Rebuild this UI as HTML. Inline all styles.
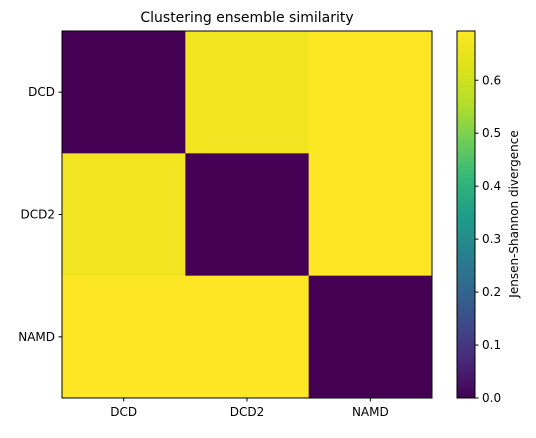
<!DOCTYPE html>
<html><head><meta charset="utf-8"><style>
body{margin:0;background:#fff;font-family:"Liberation Sans","DejaVu Sans",sans-serif;}
svg text{font-family:"DejaVu Sans","Liberation Sans",sans-serif;}
</style></head><body>
<svg id="chart" width="536" height="433">
<defs><linearGradient id="vir" x1="0" y1="1" x2="0" y2="0">
<stop offset="0" stop-color="#440154"/><stop offset="0.1" stop-color="#482878"/><stop offset="0.2" stop-color="#3e4989"/><stop offset="0.3" stop-color="#31688e"/><stop offset="0.4" stop-color="#26828e"/><stop offset="0.5" stop-color="#1f9e89"/><stop offset="0.6" stop-color="#35b779"/><stop offset="0.7" stop-color="#6ece58"/><stop offset="0.8" stop-color="#b5de2b"/><stop offset="0.9" stop-color="#dde318"/><stop offset="1" stop-color="#fde725"/>
</linearGradient></defs>
<text x="247" y="22" font-size="14" text-anchor="middle">Clustering ensemble similarity</text>
<g id="cells"></g>
<rect x="62" y="31" width="370" height="367" fill="none" stroke="#000" stroke-width="1"/>
<g id="axes" font-size="12"></g>
<rect x="457" y="31" width="18" height="367" fill="url(#vir)" stroke="#000" stroke-width="1"/>
<g id="cbticks" font-size="12"></g>
<text transform="translate(518,214) rotate(-90)" font-size="12" text-anchor="middle">Jensen-Shannon divergence</text>
</svg>
<script>
const categories=["DCD","DCD2","NAMD"];
const values=[[0,0.665,0.693],[0.665,0,0.693],[0.693,0.693,0]];
const cbTicks=[0,0.1,0.2,0.3,0.4,0.5,0.6];
const vmax=0.693;
const X0=62,Y0=31,W=370,H=367,n=categories.length,cw=W/n,ch=H/n;
const stops=[[68,1,84],[72,40,120],[62,73,137],[49,104,142],[38,130,142],[31,158,137],[53,183,121],[110,206,88],[181,222,43],[221,227,24],[253,231,37]];
function vir(t){t=Math.max(0,Math.min(1,t))*10;const i=Math.min(9,Math.floor(t)),f=t-i;const a=stops[i],b=stops[i+1];return `rgb(${a.map((v,k)=>Math.round(v+(b[k]-v)*f)).join(',')})`;}
const ns="http://www.w3.org/2000/svg";
const cells=document.getElementById('cells'),axes=document.getElementById('axes'),cb=document.getElementById('cbticks');
for(let r=0;r<n;r++)for(let c=0;c<n;c++){const e=document.createElementNS(ns,'rect');
e.setAttribute('x',X0+c*cw);e.setAttribute('y',Y0+r*ch);e.setAttribute('width',cw+0.5);e.setAttribute('height',ch+0.5);e.setAttribute('fill',vir(values[r][c]/vmax));


cells.appendChild(e);}
categories.forEach((c,i)=>{
const cx=X0+(i+0.5)*cw,cy=Y0+(i+0.5)*ch;
let l=document.createElementNS(ns,'line');l.setAttribute('x1',cx);l.setAttribute('x2',cx);l.setAttribute('y1',398);l.setAttribute('y2',401.5);l.setAttribute('stroke','#000');axes.appendChild(l);
let t=document.createElementNS(ns,'text');t.setAttribute('x',cx);t.setAttribute('y',416);t.setAttribute('text-anchor','middle');t.textContent=c;


axes.appendChild(t);
l=document.createElementNS(ns,'line');l.setAttribute('x1',58.5);l.setAttribute('x2',62);l.setAttribute('y1',cy);l.setAttribute('y2',cy);l.setAttribute('stroke','#000');axes.appendChild(l);
t=document.createElementNS(ns,'text');t.setAttribute('x',55);t.setAttribute('y',cy+4);t.setAttribute('text-anchor','end');t.textContent=c;


axes.appendChild(t);});
cbTicks.forEach(v=>{const y=398-v/vmax*H;
let l=document.createElementNS(ns,'line');l.setAttribute('x1',475);l.setAttribute('x2',478.5);l.setAttribute('y1',y);l.setAttribute('y2',y);l.setAttribute('stroke','#000');cb.appendChild(l);
let t=document.createElementNS(ns,'text');t.setAttribute('x',482);t.setAttribute('y',y+4);t.textContent=v.toFixed(1);


cb.appendChild(t);});
</script>
</body></html>
